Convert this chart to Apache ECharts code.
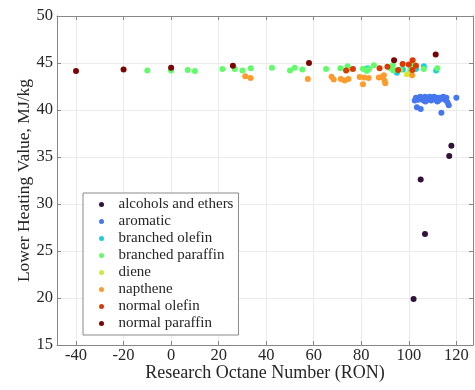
<!DOCTYPE html>
<html>
<head>
<meta charset="utf-8">
<script src="https://cdn.jsdelivr.net/npm/echarts@6/dist/echarts.min.js"></script>
<style>
  html, body { margin: 0; padding: 0; background: #fff; }
  #chart { width: 475px; height: 390px; }
</style>
</head>
<body>
<div id="chart"></div>
<script>
// Fuel groups and their [RON, LHV] points
const groupNames = ['alcohols and ethers', 'aromatic', 'branched olefin', 'branched paraffin',
                    'diene', 'napthene', 'normal olefin', 'normal paraffin'];
const groupColors = ['#30123b', '#4777ef', '#1bcfd4', '#62fc6b', '#d2e935', '#fe9b2d', '#db3a07', '#7a0403'];

const alcoholsEthers = [[117.9, 36.2], [117.0, 35.1], [105.0, 32.6], [106.8, 26.8], [102.0, 19.9]];
const aromatic = [
  [102.5, 41.0], [103.0, 41.3], [104.0, 41.1], [104.8, 41.4], [105.5, 41.2], [106.2, 41.0],
  [106.8, 41.4], [107.5, 41.3], [108.0, 41.1], [108.8, 41.4], [109.4, 41.0], [110.0, 41.2],
  [110.6, 41.4], [111.2, 41.1], [111.9, 41.3], [112.5, 41.0], [113.0, 41.3], [113.8, 41.2],
  [114.5, 41.4], [115.2, 41.1], [115.8, 41.3], [103.4, 40.3], [105.0, 40.1], [113.7, 39.7],
  [116.8, 40.5], [116.3, 40.8], [120.0, 41.3], [112.0, 40.9], [107.0, 40.9]
];
const branchedOlefin = [[81.5, 44.35], [82.8, 44.45], [95.0, 43.95], [97.5, 44.3], [103.0, 44.35],
                        [106.3, 44.65], [111.5, 44.2]];
const branchedParaffin = [
  [-10, 44.2], [0, 44.2], [7, 44.25], [10, 44.15], [21.6, 44.35], [26.8, 44.35], [30, 44.2],
  [33.5, 44.45], [42.4, 44.5], [50, 44.2], [52, 44.5], [55.2, 44.3], [65.2, 44.35], [71.2, 44.45],
  [74.2, 44.65], [74.7, 44.35], [80.7, 44.4], [82.3, 44.15], [83.3, 44.35], [85.3, 44.75],
  [92.2, 44.45], [93.3, 44.75], [93.5, 44.2], [96.4, 44.3], [100.6, 44.8], [100.6, 44.25],
  [102.7, 44.7], [106.3, 44.35], [112.0, 44.45]
];
const diene = [[99.2, 43.8]];
const napthene = [
  [31.2, 43.6], [33.4, 43.4], [57.5, 43.3], [67.5, 43.55], [68.4, 43.25], [71.4, 43.3],
  [73.0, 43.15], [74.6, 43.3], [79.3, 43.5], [80.7, 42.75], [81.2, 43.45], [83.1, 43.4],
  [87.4, 43.45], [88.7, 43.5], [89.5, 43.7], [89.8, 43.1], [90.1, 42.85], [101.4, 43.7]
];
const normalOlefin = [[73.6, 44.2], [76.5, 44.35], [87.7, 44.45], [91.0, 44.6], [95.5, 44.25],
                      [97.4, 44.9], [100.0, 44.85], [101.6, 45.3], [101.5, 44.25], [103.0, 44.7]];
const normalParaffin = [[-40, 44.15], [-20, 44.3], [0, 44.5], [26, 44.7], [58, 45.0],
                        [93.8, 45.3], [111.3, 45.9]];

const groupData = [alcoholsEthers, aromatic, branchedOlefin, branchedParaffin,
                   diene, napthene, normalOlefin, normalParaffin];

const xTicks = [-40, -20, 0, 20, 40, 60, 80, 100, 120];

const FONT = 'Liberation Serif';
const axisGray = '#868686';
const gridGray = '#ebebeb';
const textColor = '#262626';

const chart = echarts.init(document.getElementById('chart'), null, { renderer: 'canvas' });

const frameAxis = {
  axisLine: { show: true, onZero: false, lineStyle: { color: axisGray, width: 1 } },
  axisTick: { show: true, inside: true, length: 4, lineStyle: { color: axisGray } },
  axisLabel: { show: false },
  splitLine: { show: false }
};

chart.setOption({
  animation: false,
  backgroundColor: '#fff',
  grid: { left: 57, right: 2, top: 16, bottom: 45, containLabel: false, outerBoundsMode: 'none' },
  xAxis: [
    {
      type: 'value', min: -48, max: 127, position: 'bottom',
      name: 'Research Octane Number (RON)', nameLocation: 'middle', nameGap: 19,
      nameMoveOverlap: false,
      nameTextStyle: { fontFamily: FONT, fontSize: 18, color: textColor },
      axisLine: { show: true, onZero: false, lineStyle: { color: axisGray } },
      axisTick: { show: true, inside: true, length: 4, customValues: xTicks, lineStyle: { color: axisGray } },
      axisLabel: { customValues: xTicks, margin: 2, fontFamily: FONT, fontSize: 16.5, color: textColor },
      splitLine: { show: true, lineStyle: { color: gridGray, width: 1 } }
    },
    Object.assign({ type: 'value', min: -48, max: 127, position: 'top' }, frameAxis,
      { axisTick: { show: true, inside: true, length: 4, customValues: xTicks, lineStyle: { color: axisGray } } })
  ],
  yAxis: [
    {
      type: 'value', min: 15, max: 50, interval: 5, position: 'left',
      name: 'Lower Heating Value, MJ/kg', nameLocation: 'middle', nameGap: 24,
      nameMoveOverlap: false,
      nameTextStyle: { fontFamily: FONT, fontSize: 17.5, color: textColor },
      axisLine: { show: true, onZero: false, lineStyle: { color: axisGray } },
      axisTick: { show: true, inside: true, length: 4, lineStyle: { color: axisGray } },
      axisLabel: { margin: 4, fontFamily: FONT, fontSize: 16.5, color: textColor },
      splitLine: { show: true, lineStyle: { color: gridGray, width: 1 } }
    },
    Object.assign({ type: 'value', min: 15, max: 50, interval: 5, position: 'right' }, frameAxis)
  ],
  legend: {
    orient: 'vertical', left: 83, top: 193,
    data: groupNames,
    icon: 'circle', itemWidth: 24, itemHeight: 5, itemGap: 2,
    padding: [4, 5, 4, 16],
    backgroundColor: '#fff', borderColor: '#8a8a8a', borderWidth: 1,
    textStyle: { fontFamily: FONT, fontSize: 15, color: textColor, lineHeight: 14 }
  },
  series: groupNames.map((name, i) => ({
    name: name,
    type: 'scatter',
    xAxisIndex: 0, yAxisIndex: 0,
    data: groupData[i],
    symbol: 'circle', symbolSize: 6,
    itemStyle: { color: groupColors[i], opacity: 1 },
    emphasis: { disabled: true },
    z: 2 + i
  }))
});
</script>
</body>
</html>
